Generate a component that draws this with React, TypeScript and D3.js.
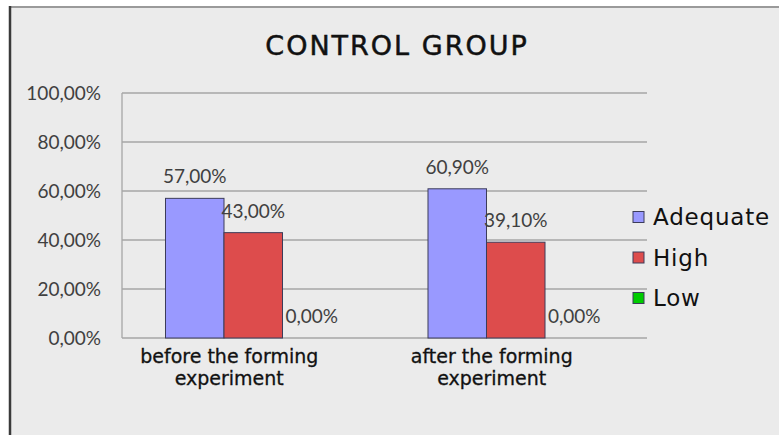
import React from "react";
import * as d3 from "d3";

const title = "CONTROL GROUP";
const categories = ["before the forming|experiment", "after the forming|experiment"];
const seriesNames = ["Adequate", "High", "Low"];
const seriesColors = ["#9999ff", "#dd4c4c", "#00cc00"];
const adequateValues = [0.57, 0.609];
const highValues = [0.43, 0.391];
const lowValues = [0.0, 0.0];
const yTicks = [0, 0.2, 0.4, 0.6, 0.8, 1.0];

const W = 779;
const H = 435;
const plot = { left: 122, right: 647, top: 93, bottom: 338 };

const fmt = (v: number) => (v * 100).toFixed(2).replace(".", ",") + "%";

export default function App() {
  const seriesValues = [adequateValues, highValues, lowValues];
  const x0 = d3
    .scaleBand<string>()
    .domain(categories)
    .range([plot.left, plot.right])
    .paddingInner(0.3314)
    .paddingOuter(0.1657);
  const x1 = d3.scaleBand<string>().domain(seriesNames).range([0, x0.bandwidth()]);
  const y = d3.scaleLinear().domain([0, 1]).range([plot.bottom, plot.top]);
  const labelFont = "Lato, 'Open Sans', sans-serif";
  const gothic = "'DejaVu Sans', sans-serif";

  return (
    <svg width={W} height={H} style={{ position: "absolute", left: 0, top: 0 }}>
      <rect x={0} y={0} width={W} height={H} fill="#ffffff" />
      <rect x={10} y={7} width={W - 10} height={H - 7} fill="#ebebeb" />
      <line x1={10} y1={7} x2={W} y2={7} stroke="#9a9a9a" strokeWidth={2} />
      <line x1={10} y1={6} x2={10} y2={H} stroke="#3a3a3a" strokeWidth={2.5} />

      <text
        x={397}
        y={55}
        textAnchor="middle"
        fontFamily={gothic}
        fontSize={27}
        letterSpacing={2}
        stroke="#111"
        strokeWidth={0.5}
        fill="#111"
      >
        {title}
      </text>

      {yTicks.map((t) => (
        <g key={t}>
          <line x1={plot.left} x2={plot.right} y1={y(t)} y2={y(t)} stroke="#a6a6a6" strokeWidth={1.3} />
          <text
            x={101}
            y={y(t)}
            dy="0.35em"
            textAnchor="end"
            fontFamily={labelFont}
            fontSize={19}
            fill="#404040"
          >
            {fmt(t)}
          </text>
        </g>
      ))}
      <line x1={plot.left} x2={plot.left} y1={plot.top} y2={plot.bottom} stroke="#a6a6a6" strokeWidth={1.3} />

      {categories.map((c, ci) => (
        <g key={c}>
          {seriesNames.map((s, si) => {
            const v = seriesValues[si][ci];
            const bx = (x0(c) ?? 0) + (x1(s) ?? 0);
            const bw = x1.bandwidth();
            return (
              <g key={s}>
                {v > 0 && (
                  <rect
                    x={bx}
                    y={y(v)}
                    width={bw}
                    height={y(0) - y(v)}
                    fill={seriesColors[si]}
                    stroke="#3c3c5a"
                    strokeWidth={1}
                  />
                )}
                <text
                  x={bx + bw / 2}
                  y={y(v) - 15}
                  textAnchor="middle"
                  fontFamily={labelFont}
                  fontSize={19}
                  fill="#404040"
                >
                  {fmt(v)}
                </text>
              </g>
            );
          })}
          {c.split("|").map((line, li) => (
            <text
              key={li}
              x={(x0(c) ?? 0) + x0.bandwidth() / 2 - 24}
              y={363 + li * 22}
              textAnchor="middle"
              fontFamily={gothic}
              fontSize={19}
              stroke="#111"
              strokeWidth={0.3}
              fill="#111"
            >
              {line}
            </text>
          ))}
        </g>
      ))}

      {seriesNames.map((s, si) => (
        <g key={s} transform={`translate(633, ${217 + si * 40.5})`}>
          <rect x={0} y={-5.5} width={11} height={11} fill={seriesColors[si]} stroke="#3c3c5a" strokeWidth={1} />
          <text x={20} y={0} dy="0.36em" fontFamily={gothic} fontSize={23} letterSpacing={0.8} fill="#111">
            {s}
          </text>
        </g>
      ))}
    </svg>
  );
}
